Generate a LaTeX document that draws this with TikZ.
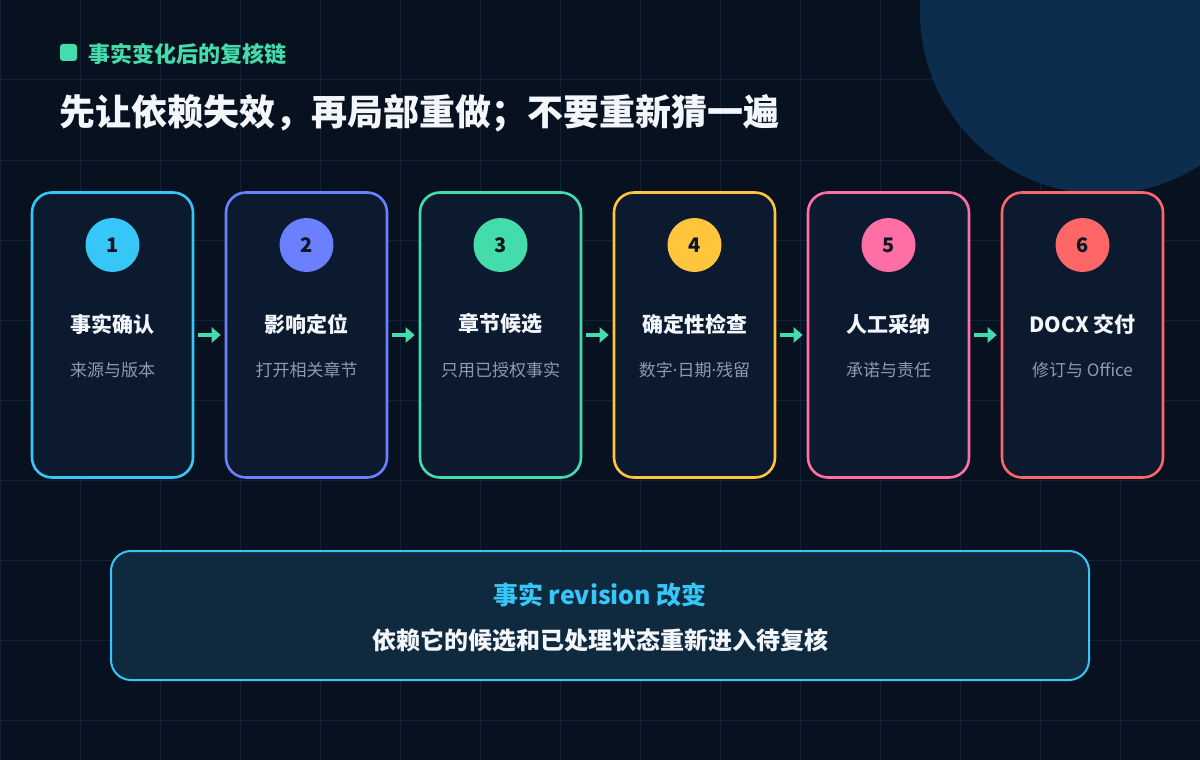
\documentclass[tikz,border=0pt]{standalone}
\usepackage{fontspec}
\setmainfont{Noto Sans CJK SC}
\newfontfamily\latinfont{Noto Sans}
\usetikzlibrary{arrows.meta}
\definecolor{bg}{HTML}{07111F}
\definecolor{gridc}{HTML}{10223A}
\definecolor{blob}{HTML}{0C2D4E}
\definecolor{cardfill}{HTML}{0B1A2E}
\definecolor{cA}{HTML}{36C6F7}
\definecolor{cB}{HTML}{6B80FF}
\definecolor{cC}{HTML}{44DCAA}
\definecolor{cD}{HTML}{FFC53D}
\definecolor{cE}{HTML}{FF6FA6}
\definecolor{cF}{HTML}{FF6666}
\definecolor{titlec}{HTML}{F3F6FA}
\definecolor{subc}{HTML}{8C9BB0}
\definecolor{numc}{HTML}{0B1526}
\definecolor{boxfill}{HTML}{0F293E}
\newcommand{\mdot}{{\latinfont ·}}
\tikzset{
  cardbox/.style={draw=#1, line width=2.6pt, fill=cardfill, rounded corners=20pt,
    minimum width=161pt, minimum height=285pt, inner sep=0pt},
  numdisc/.style={circle, fill=#1, minimum size=54pt, inner sep=0pt,
    text=numc, font=\bfseries\fontsize{20}{22}\selectfont},
  cardtitle/.style={text=titlec, font=\bfseries\fontsize{21}{24}\selectfont, inner sep=0pt},
  cardsub/.style={text=subc, font=\fontsize{17}{19}\selectfont, inner sep=0pt},
  flowarrow/.style={draw=cC, line width=3.5pt, -{Triangle[length=9pt,width=15pt]},
    shorten <=4pt, shorten >=4pt},
}
\begin{document}
\begin{tikzpicture}[x=1pt,y=-1pt]
\useasboundingbox (0,0) rectangle (1200,760);
\fill[bg] (0,0) rectangle (1200,760);
% grid
\foreach \gx in {0,80,...,1200} {\draw[gridc, line width=1pt] (\gx,0) -- (\gx,760);}
\foreach \gy in {0,80,...,760} {\draw[gridc, line width=1pt] (0,\gy) -- (1200,\gy);}
% decorative disc
\fill[blob] (1102,12) circle[radius=182];
% header
\node[fill=cC, rounded corners=3pt, minimum size=17pt, inner sep=0pt] (bullet) at (68.5,52.5) {};
\node[anchor=west, inner sep=0pt, text=cC, font=\bfseries\fontsize{22}{25}\selectfont] (kicker) at (88,54) {事实变化后的复核链};
\node[anchor=west, inner sep=0pt, text=titlec, font=\bfseries\fontsize{36}{40}\selectfont] (headline) at (59,113) {先让依赖失效，再局部重做；不要重新猜一遍};
% cards
\foreach \i/\col/\ttl/\sub in {1/cA/事实确认/来源与版本, 2/cB/影响定位/打开相关章节, 3/cC/章节候选/只用已授权事实, 4/cD/确定性检查/数字\mdot 日期\mdot 残留, 5/cE/人工采纳/承诺与责任, 6/cF/DOCX 交付/修订与 Office} {
  \pgfmathsetmacro{\cx}{112.5+194*(\i-1)}
  \node[cardbox=\col] (card\i) at (\cx,335) {};
  \node[numdisc=\col] (num\i) at (\cx,245) {\i};
  \node[cardtitle] (ttl\i) at (\cx,324) {\ttl};
  \node[cardsub] (sub\i) at (\cx,370) {\sub};
}
\foreach \a/\b in {1/2,2/3,3/4,4/5,5/6} {
  \draw[flowarrow] (card\a.east) -- (card\b.west);
}
% bottom banner
\node[draw=cA, line width=2pt, fill=boxfill, rounded corners=20pt,
  minimum width=978pt, minimum height=129pt, inner sep=0pt] (banner) at (600,615.5) {};
\node[text=cA, inner sep=0pt, font=\bfseries\fontsize{25}{29}\selectfont] (bannerhead) at (600,595) {事实 revision 改变};
\node[text=titlec, inner sep=0pt, font=\bfseries\fontsize{24}{28}\selectfont] (bannerbody) at (600,640) {依赖它的候选和已处理状态重新进入待复核};
\end{tikzpicture}
\end{document}
